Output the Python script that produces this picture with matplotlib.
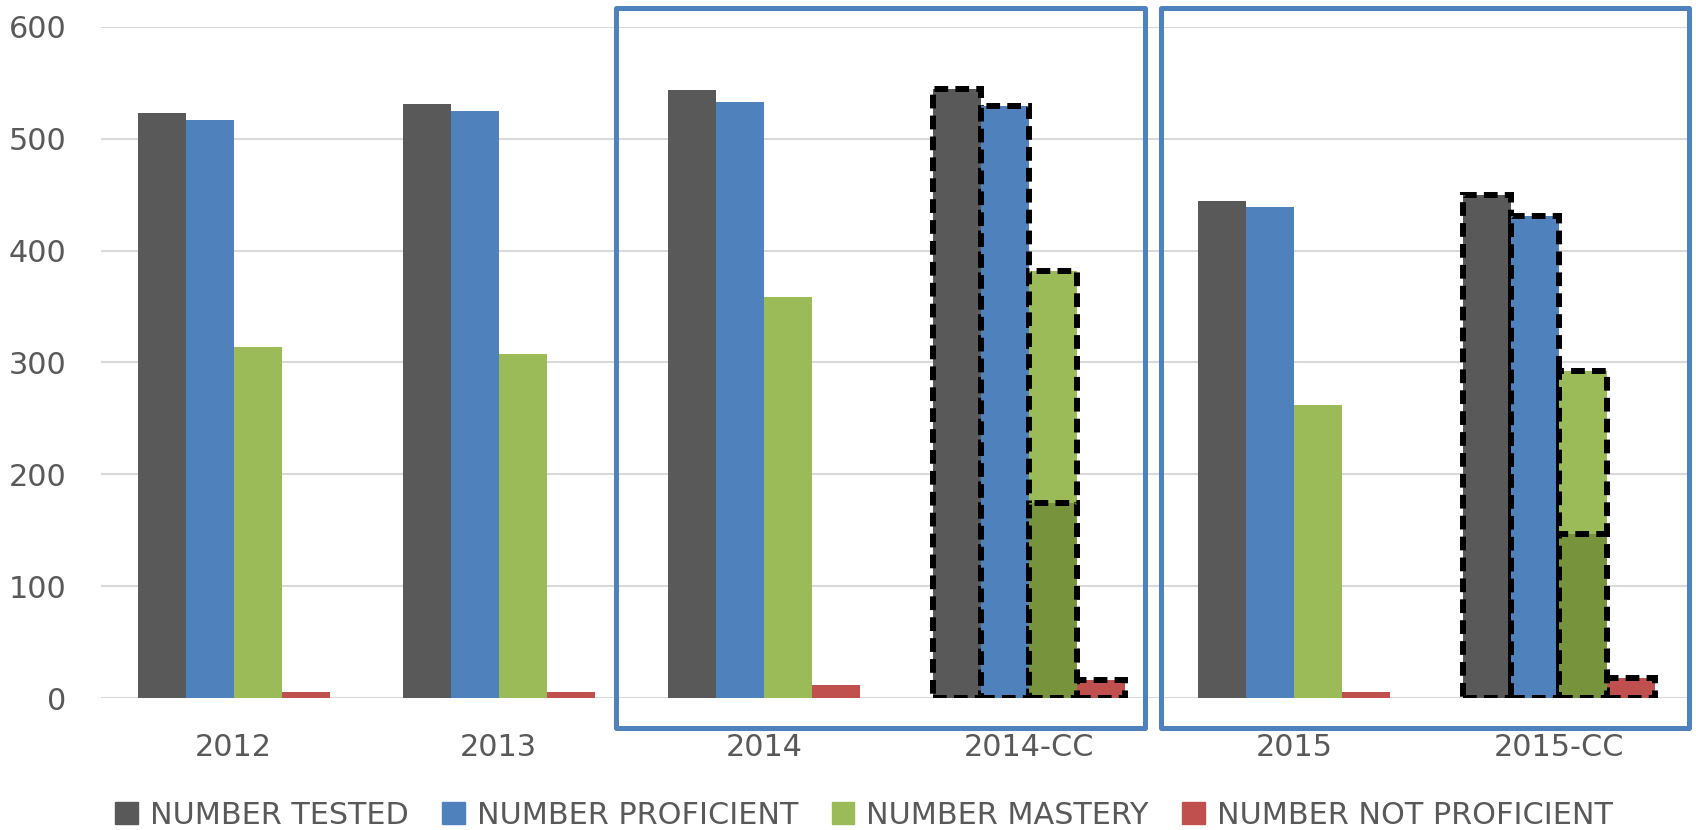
import numpy as np
import matplotlib.pyplot as plt
from matplotlib.patches import Patch, Rectangle

categories = ['2012', '2013', '2014', '2014-CC', '2015', '2015-CC']
series_names = ['NUMBER TESTED', 'NUMBER PROFICIENT', 'NUMBER MASTERY', 'NUMBER NOT PROFICIENT']
tested = [523, 531, 544, 545, 444, 450]
proficient = [517, 525, 533, 529, 439, 431]
mastery = [314, 308, 359, 382, 262, 292]
not_proficient = [5, 5, 12, 16, 5, 18]
# darker inner part of the mastery bar for the CC columns
mastery_inner = [0, 0, 0, 174, 0, 147]
dashed_groups = [3, 5]

colors = ['#595959', '#4F81BD', '#9BBB59', '#C0504D']
inner_color = '#77933C'
text_color = '#595959'
dash = (0, (2.3, 1.2))

fig = plt.figure(figsize=(16.96, 8.30), dpi=100)
ax = fig.add_axes([101 / 1696, 1 - 698 / 830, (1692 - 101) / 1696, (698 - 27) / 830])

x = np.arange(len(categories))
w = 0.181
values = [tested, proficient, mastery, not_proficient]
for k, vals in enumerate(values):
    xs = x + (k - 1.5) * w
    for i in range(len(categories)):
        if i in dashed_groups:
            ax.bar(xs[i], vals[i], w, color=colors[k], edgecolor='black',
                   linewidth=4.3, linestyle=dash, zorder=3)
        else:
            ax.bar(xs[i], vals[i], w, color=colors[k], linewidth=0, zorder=3)

for i in dashed_groups:
    ax.bar(x[i] + 0.5 * w, mastery_inner[i], w, color=inner_color, edgecolor='black',
           linewidth=4.3, linestyle=dash, zorder=4)

ax.set_xlim(-0.5, len(categories) - 0.5)
ax.set_ylim(0, 600)
ax.set_yticks(range(0, 601, 100))
ax.set_xticks(x)
ax.set_xticklabels(categories)
ax.yaxis.grid(True, color='#D9D9D9', linewidth=1.5, zorder=0)
ax.set_axisbelow(True)
for s in ax.spines.values():
    s.set_visible(False)
ax.tick_params(axis='both', length=0, labelsize=21.8, colors=text_color)
ax.tick_params(axis='x', pad=25)
ax.tick_params(axis='y', pad=25)

# blue frames round 2014 and 2015 groups
for x0, x1 in [(616, 1145), (1161, 1689)]:
    fig.patches.append(Rectangle((x0 / 1696, 1 - 727.5 / 830), (x1 - x0) / 1696, 719 / 830,
                                 transform=fig.transFigure, fill=False, edgecolor='#4F81BD',
                                 linewidth=3.6, joinstyle='round', zorder=5))

handles = [Patch(color=c) for c in colors]
leg = fig.legend(handles, series_names, loc='center', bbox_to_anchor=(864 / 1696, 1 - 815 / 830),
                 ncol=4, frameon=False, fontsize=21.8, handlelength=0.75, handleheight=0.75,
                 handletextpad=0.4, columnspacing=1.1)
for t in leg.get_texts():
    t.set_color(text_color)

fig.savefig('out.png', dpi=100)
